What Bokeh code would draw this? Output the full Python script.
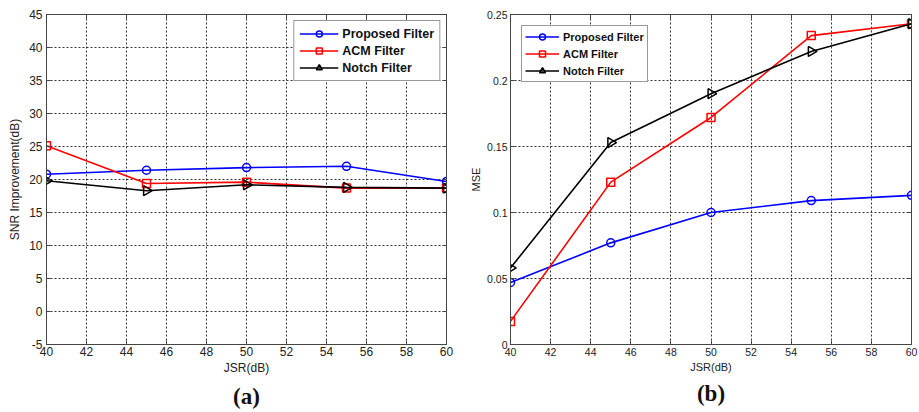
import numpy as np
from bokeh.plotting import figure
from bokeh.layouts import row
from bokeh.models import LinearAxis, FixedTicker, Title, Legend, LegendItem
from bokeh.embed import file_html
from bokeh.resources import INLINE

jsr = [40, 45, 50, 55, 60]

snr_proposed = [20.8, 21.4, 21.8, 22.0, 19.7]
snr_acm = [25.1, 19.4, 19.6, 18.7, 18.7]
snr_notch = [19.8, 18.3, 19.2, 18.8, 18.7]

mse_proposed = [0.047, 0.077, 0.100, 0.109, 0.113]
mse_acm = [0.0175, 0.123, 0.172, 0.234, 0.243]
mse_notch = [0.058, 0.153, 0.190, 0.222, 0.243]

x_ticks = [40, 42, 44, 46, 48, 50, 52, 54, 56, 58, 60]
snr_ticks = [-5, 0, 5, 10, 15, 20, 25, 30, 35, 40, 45]
snr_tick_labels = ["-5", "0", "5", "10", "15", "20", "25", "30", "35", "40", "45"]
mse_ticks = [0, 0.05, 0.1, 0.15, 0.2, 0.25]
mse_tick_labels = ["0", "0.05", "0.1", "0.15", "0.2", "0.25"]
series_names = ["Proposed Filter", "ACM Filter", "Notch Filter"]

FONT = "Liberation Sans"


def style_axis(ax, tick_size, label_size):
    ax.major_tick_in = 4
    ax.major_tick_out = 0
    ax.minor_tick_in = 0
    ax.minor_tick_out = 0
    ax.axis_line_color = "#444444"
    ax.major_tick_line_color = "#444444"
    ax.major_label_text_font = FONT
    ax.major_label_text_font_size = tick_size
    ax.major_label_text_color = "#222222"
    ax.axis_label_text_font = FONT
    ax.axis_label_text_font_size = label_size
    ax.axis_label_text_font_style = "normal"
    ax.axis_label_text_color = "#222222"


def make_fig(width, height, yr, yticks, ytick_labels, ylabel, caption, ys, legend_loc,
             legend_margin, border_left, border_right, border_top, border_bottom,
             tick_size, label_size, legend_font, glyph_w, row_h, leg_pad,
             xtick_standoff, ytick_standoff, yaxis_standoff, title_standoff):
    p = figure(width=width, height=height, x_range=(40, 60), y_range=yr,
               output_backend="svg", toolbar_location=None,
               min_border_left=border_left, min_border_right=border_right,
               min_border_top=border_top, min_border_bottom=border_bottom)
    p.outline_line_color = "#444444"
    p.outline_line_width = 1
    p.background_fill_color = "white"
    p.border_fill_color = "white"

    xa = p.xaxis[0]
    ya = p.yaxis[0]
    xa.ticker = FixedTicker(ticks=x_ticks)
    ya.ticker = FixedTicker(ticks=yticks)
    ya.major_label_overrides = {t: s for t, s in zip(yticks, ytick_labels)}
    xa.axis_label = "JSR(dB)"
    ya.axis_label = ylabel
    style_axis(xa, tick_size, label_size)
    style_axis(ya, tick_size, label_size)
    xa.major_label_standoff = xtick_standoff
    xa.axis_label_standoff = 2
    ya.major_label_standoff = ytick_standoff
    ya.axis_label_standoff = yaxis_standoff

    # top and right tick-only axes (box style)
    top = LinearAxis(ticker=FixedTicker(ticks=x_ticks))
    right = LinearAxis(ticker=FixedTicker(ticks=yticks))
    for ax, t in ((top, x_ticks), (right, yticks)):
        style_axis(ax, tick_size, label_size)
        ax.major_label_overrides = {v: "" for v in t}
        ax.major_label_text_font_size = "0px"
        ax.major_label_standoff = 0
    p.add_layout(top, "above")
    p.add_layout(right, "right")

    p.xgrid.grid_line_color = "#333333"
    p.ygrid.grid_line_color = "#333333"
    p.xgrid.grid_line_dash = "2 2"
    p.ygrid.grid_line_dash = "2 2"
    p.xgrid.grid_line_width = 1
    p.ygrid.grid_line_width = 1

    colors = ["#0000ff", "#ff0000", "#000000"]
    items = []
    for name, y, c, mk in zip(series_names, ys, colors, ["circle", "square", "triangle"]):
        ln = p.line(jsr, y, line_color=c, line_width=1.6)
        if mk == "triangle":
            sc = p.scatter(jsr, y, marker="triangle", size=10, angle=-np.pi / 2,
                           line_color=c, fill_color=None, line_width=1.5)
        elif mk == "square":
            sc = p.scatter(jsr, y, marker="square", size=8, line_color=c,
                           fill_color=None, line_width=1.5)
        else:
            sc = p.scatter(jsr, y, marker="circle", size=8, line_color=c,
                           fill_color=None, line_width=1.5)
        items.append(LegendItem(label=name, renderers=[ln, sc]))

    leg = Legend(items=items, location=legend_loc, margin=legend_margin,
                 label_text_font=FONT, label_text_font_size=legend_font,
                 label_text_font_style="bold", label_text_color="#111111",
                 border_line_color="#333333", border_line_width=1,
                 background_fill_color="white", background_fill_alpha=1,
                 glyph_width=glyph_w, glyph_height=row_h, label_standoff=4,
                 spacing=2, padding=leg_pad, label_height=row_h)
    p.add_layout(leg, "center")

    p.add_layout(Title(text=caption, align="center", text_font="Liberation Serif",
                       text_font_size="23px", text_font_style="bold",
                       text_color="#111111", standoff=title_standoff, offset=0), "below")
    return p


p1 = make_fig(460, 412, (-5, 45), snr_ticks, snr_tick_labels, "SNR Improvement(dB)", "(a)",
              [snr_proposed, snr_acm, snr_notch], "top_right", 6, 46, 14, 14, 68,
              "12px", "12px", "12.5px", 39, 15, 5, 2, 4, 4, 8)
p2 = make_fig(459, 412, (0, 0.25), mse_ticks, mse_tick_labels, "MSE", "(b)",
              [mse_proposed, mse_acm, mse_notch], "top_left", 11, 50, 8, 13, 65,
              "10.5px", "11px", "11px", 34, 15, 3, 3, 3, 2, 7)

layout = row(p1, p2, spacing=0)

open("out.html", "w").write(file_html(layout, INLINE))
